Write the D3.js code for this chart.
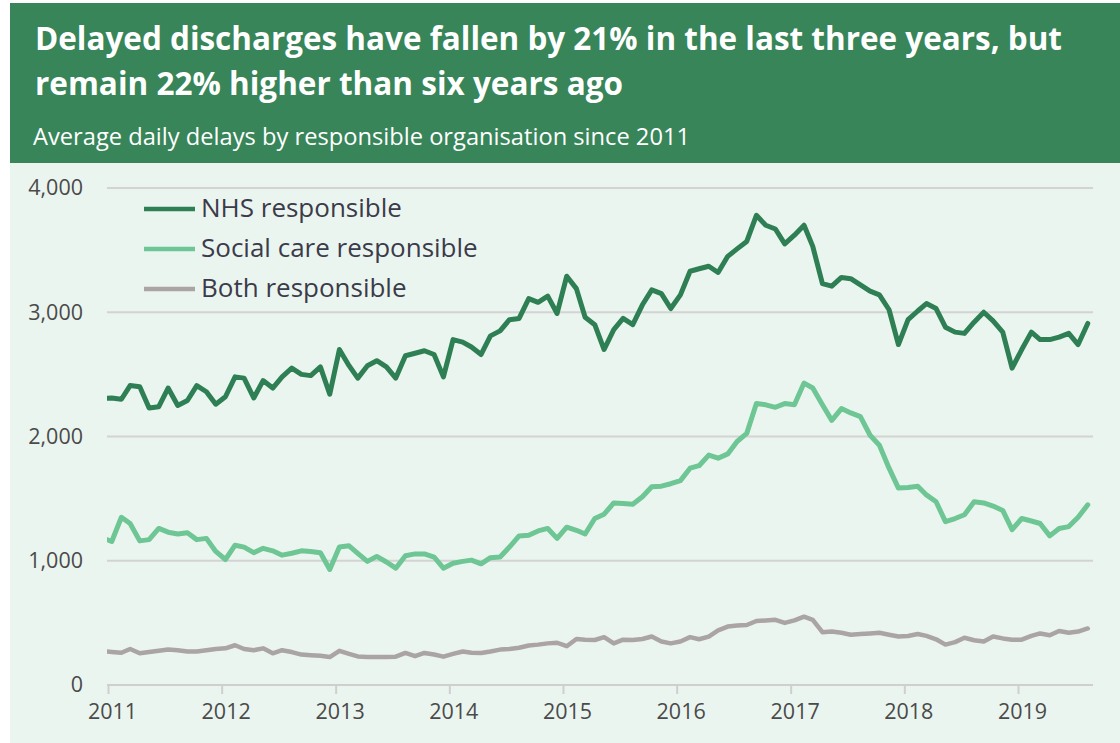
<!DOCTYPE html>
<html>
<head>
<meta charset="utf-8">
<script src="https://cdn.jsdelivr.net/npm/d3@7"></script>
<style>
  html, body { margin: 0; padding: 0; background: #ffffff; }
  svg { display: block; font-family: "Open Sans", "Noto Sans", sans-serif; }
</style>
</head>
<body>
<svg id="chart" width="1120" height="743"></svg>
<script>
// Monthly average daily delayed discharges, December 2010 – August 2019
// (the December 2010 point sits just left of the axis and is clipped)
const startYear = 2010, startMonth = 11;
const yearTicks = [2011, 2012, 2013, 2014, 2015, 2016, 2017, 2018, 2019];
const yTicks = [0, 1000, 2000, 3000, 4000];

const nhsValues = [
  2305,
  2310, 2300, 2410, 2400, 2230, 2240, 2390, 2250, 2290, 2410, 2360, 2260,
  2320, 2480, 2470, 2310, 2450, 2390, 2480, 2550, 2500, 2490, 2560, 2340,
  2700, 2570, 2470, 2570, 2610, 2560, 2470, 2650, 2670, 2690, 2660, 2480,
  2780, 2760, 2720, 2660, 2810, 2850, 2940, 2950, 3110, 3080, 3130, 2990,
  3290, 3190, 2960, 2900, 2700, 2860, 2950, 2900, 3060, 3180, 3150, 3030,
  3140, 3330, 3350, 3370, 3320, 3450, 3510, 3570, 3780, 3700, 3670, 3550,
  3620, 3700, 3530, 3230, 3210, 3280, 3270, 3220, 3170, 3140, 3020, 2740,
  2940, 3010, 3070, 3030, 2880, 2840, 2830, 2920, 3000, 2930, 2840, 2550,
  2700, 2840, 2780, 2780, 2800, 2830, 2740, 2910
];

const socialValues = [
  1185,
  1155, 1350, 1300, 1160, 1170, 1260, 1230, 1215, 1225, 1170, 1180, 1075,
  1010, 1125, 1110, 1065, 1100, 1080, 1045, 1060, 1080, 1075, 1065, 930,
  1110, 1120, 1060, 995, 1035, 990, 940, 1040, 1055, 1055, 1030, 940,
  980, 995, 1005, 975, 1025, 1030, 1110, 1200, 1205, 1240, 1260, 1180,
  1270, 1245, 1215, 1340, 1375, 1465, 1460, 1455, 1515, 1595, 1600, 1620,
  1645, 1745, 1765, 1850, 1825, 1860, 1960, 2025, 2265, 2255, 2235, 2265,
  2255, 2430, 2390, 2255, 2130, 2225, 2190, 2160, 2010, 1930, 1745, 1585,
  1590, 1600, 1530, 1475, 1315, 1340, 1370, 1475, 1465, 1440, 1405, 1250,
  1340, 1320, 1300, 1200, 1260, 1275, 1350, 1450
];

const bothValues = [
  272,
  266, 260, 290, 255, 265, 275, 285, 280, 270, 270, 280, 290,
  295, 320, 290, 280, 295, 255, 280, 265, 245, 240, 235, 225,
  275, 250, 230, 225, 225, 225, 228, 258, 232, 258, 245, 228,
  250, 270, 260, 258, 270, 285, 290, 300, 318, 325, 335, 340,
  312, 370, 365, 362, 385, 335, 365, 362, 370, 390, 350, 335,
  350, 385, 368, 390, 440, 470, 478, 483, 515, 520, 525, 500,
  520, 550, 525, 425, 430, 420, 405, 410, 415, 420, 405, 390,
  395, 410, 395, 368, 325, 345, 380, 360, 350, 390, 375, 365,
  365, 395, 415, 400, 435, 420, 430, 455
];

const seriesNames = ["NHS responsible", "Social care responsible", "Both responsible"];
const seriesColors = ["#2f7f55", "#6dc694", "#aaa4a5"];
const seriesWidths = [5, 5, 4.5];

const titleLines = [
  "Delayed discharges have fallen by 21% in the last three years, but",
  "remain 22% higher than six years ago"
];
const subtitle = "Average daily delays by responsible organisation since 2011";

const svg = d3.select("#chart");
const W = 1120, H = 743;

// header band and plot panel
svg.append("rect").attr("x", 10).attr("y", 3).attr("width", W - 10).attr("height", 160)
  .attr("fill", "#378559");
svg.append("rect").attr("x", 10).attr("y", 163).attr("width", W - 10).attr("height", H - 163)
  .attr("fill", "#ebf5ef");

// title: two lines, fitted to the header width
const titleWidths = [1027, 588];
titleLines.forEach((t, i) => {
  svg.append("text").attr("x", 35).attr("y", 50 + i * 45)
    .attr("fill", "#ffffff").attr("font-weight", 700).attr("font-size", 32)
    .attr("textLength", titleWidths[i]).attr("lengthAdjust", "spacingAndGlyphs")
    .text(t);
});
svg.append("text").attr("x", 33).attr("y", 145).attr("fill", "#ffffff")
  .attr("font-size", 23).attr("textLength", 657).attr("lengthAdjust", "spacingAndGlyphs")
  .text(subtitle);

// scales: monthly values are plotted at the 13th of each month
const months = nhsValues.length;
const dates = d3.range(months).map(i => new Date(startYear, startMonth + i, 13));
const x = d3.scaleTime()
  .domain([new Date(2011, 0, 1), new Date(2019, 0, 1)])
  .range([108, 1018]);
const y = d3.scaleLinear().domain([0, 4000]).range([685, 188]);

// clip lines to the plotting area
svg.append("defs").append("clipPath").attr("id", "plot-clip")
  .append("rect").attr("x", 107).attr("y", 150).attr("width", 1000).attr("height", 560);

// horizontal gridlines
svg.append("g").selectAll("line").data(yTicks.filter(d => d > 0)).join("line")
  .attr("x1", 107).attr("x2", 1093)
  .attr("y1", d => y(d)).attr("y2", d => y(d))
  .attr("stroke", "#d3d3d3").attr("stroke-width", 2);

// y axis labels
const yAxis = d3.axisLeft(y).tickValues(yTicks).tickSize(0).tickPadding(0)
  .tickFormat(d3.format(","));
const gy = svg.append("g").attr("transform", "translate(83,0)").call(yAxis);
gy.select(".domain").remove();
gy.selectAll("text").attr("font-size", 21.5).attr("fill", "#4a4a4a")
  .attr("font-family", "Open Sans, sans-serif");

// x axis
const xAxis = d3.axisBottom(x)
  .tickValues(yearTicks.map(yr => new Date(yr, 0, 1)))
  .tickSize(9).tickPadding(10).tickFormat(d3.timeFormat("%Y"));
const gx = svg.append("g").attr("transform", "translate(0,685)").call(xAxis);
gx.select(".domain").attr("d", "M107,0H1093").attr("stroke", "#cfcfcf").attr("stroke-width", 2);
gx.selectAll(".tick line").attr("stroke", "#cfcfcf").attr("stroke-width", 2);
gx.selectAll("text").attr("font-size", 21.5).attr("fill", "#4a4a4a").attr("dx", 4)
  .attr("font-family", "Open Sans, sans-serif");

// lines
const allSeries = [nhsValues, socialValues, bothValues];
const line = d3.line().x((d, i) => x(dates[i])).y(d => y(d));
const lines = svg.append("g").attr("clip-path", "url(#plot-clip)");
[2, 1, 0].forEach(k => {
  lines.append("path").datum(allSeries[k])
    .attr("d", line)
    .attr("fill", "none")
    .attr("stroke", seriesColors[k])
    .attr("stroke-width", seriesWidths[k])
    .attr("stroke-linejoin", "round")
    .attr("stroke-linecap", "round");
});

// legend
const legend = svg.append("g");
seriesNames.forEach((name, i) => {
  const ly = 209 + i * 40;
  legend.append("line").attr("x1", 144).attr("x2", 195).attr("y1", ly).attr("y2", ly)
    .attr("stroke", seriesColors[i]).attr("stroke-width", 4.5);
  legend.append("text").attr("x", 201).attr("y", ly + 8)
    .attr("font-size", 26).attr("fill", "#3b3b4a").text(name);
});
</script>
</body>
</html>
